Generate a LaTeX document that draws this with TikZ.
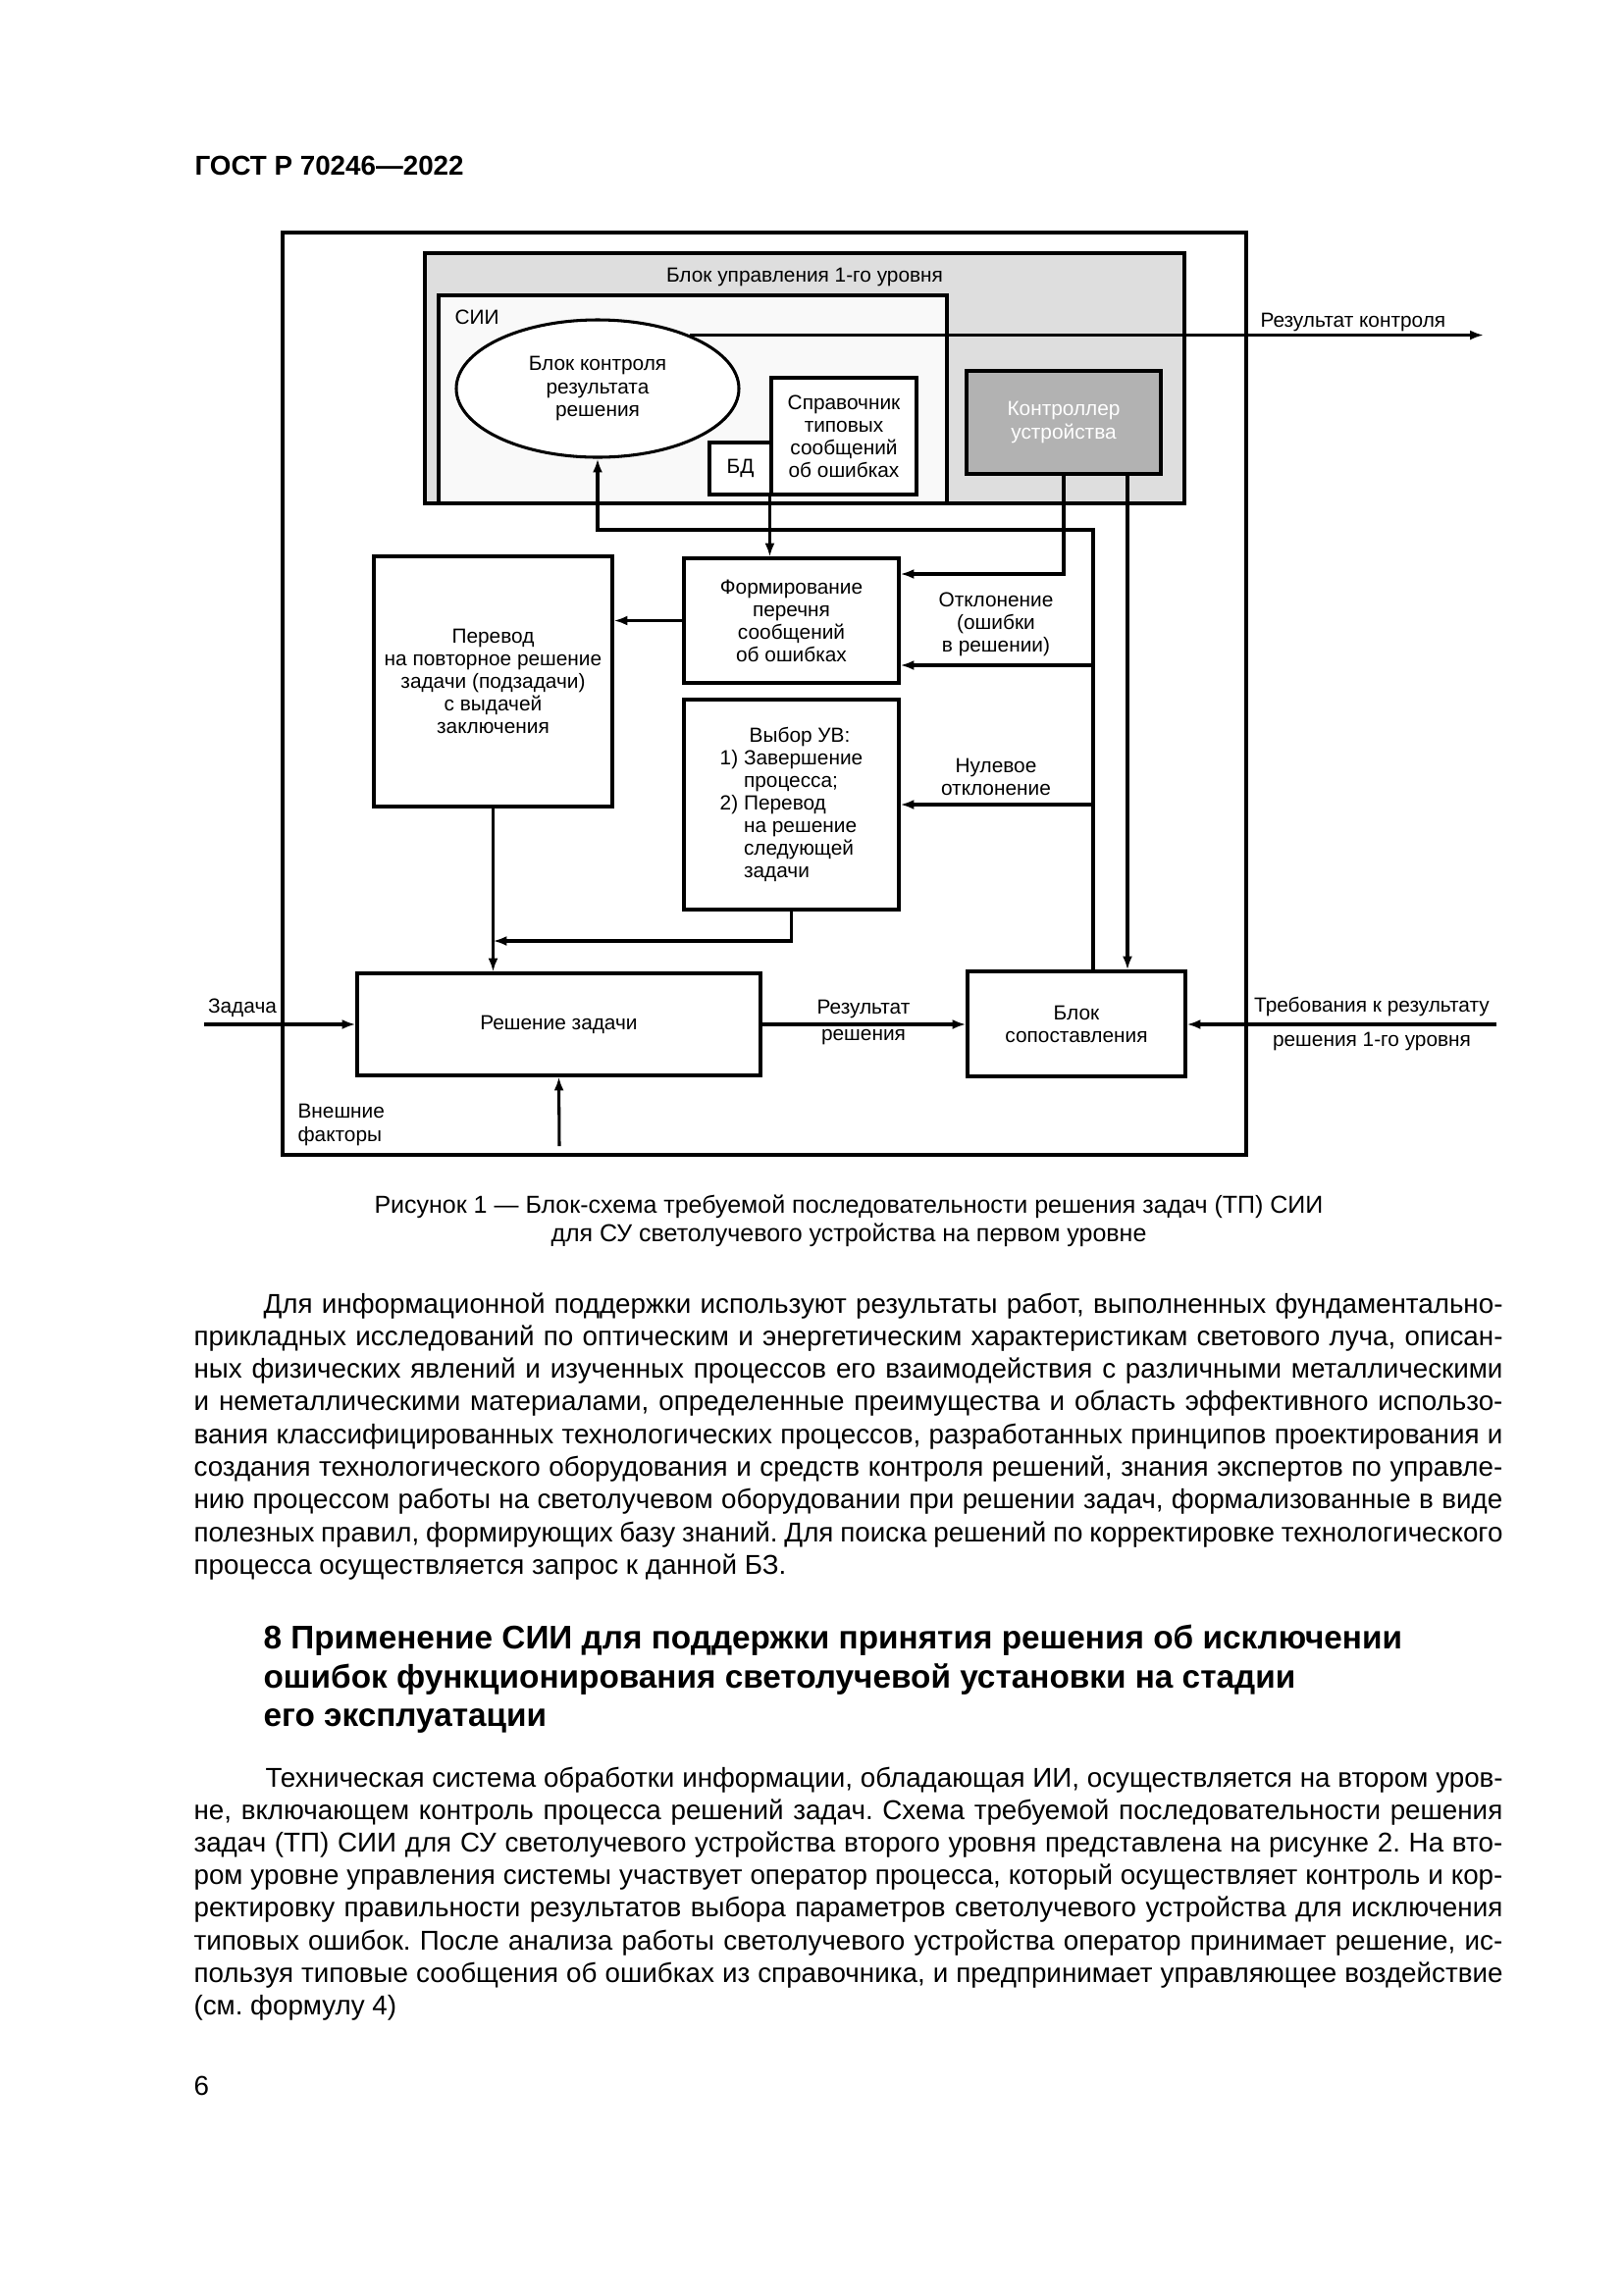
\documentclass[tikz,border=0pt]{standalone}
\usepackage{fontspec}
\setmainfont{Liberation Sans}
\usetikzlibrary{arrows.meta,shapes.geometric,calc}
\frenchspacing
\newcommand{\dgf}{\fontsize{7.5}{8.3}\selectfont}
\newcommand{\bdf}{\fontsize{10}{12}\selectfont}
\newcommand{\cpf}{\fontsize{9}{10.8}\selectfont}
\newcommand{\hdf}{\fontsize{12}{14.4}\selectfont\bfseries}
\newcommand{\jl}[2]{\makebox[#1][s]{#2}}
\definecolor{blkc}{gray}{0.87}
\definecolor{siic}{gray}{0.975}
\definecolor{ctrlc}{gray}{0.70}
\begin{document}
\begin{tikzpicture}[x=0.36pt,y=-0.36pt,
  arr/.style={line width=1.1pt,-{Latex[length=5pt,width=3.6pt]}},
  box/.style={draw,line width=1.1pt,fill=white,inner sep=0pt,align=center,font=\dgf},
  sz/.style 2 args={minimum width=#1*0.36pt,minimum height=#2*0.36pt},
  lbl/.style={inner sep=0pt,align=center,font=\dgf},
  bl/.style={inner sep=0pt,anchor=base west,font=\bdf},
  hl/.style={inner sep=0pt,anchor=base west,font=\hdf},
  captxt/.style={inner sep=0pt,anchor=base,font=\cpf},
]
\useasboundingbox[fill=white] (0,0) rectangle (1654,2339);

% header
\node[inner sep=0pt,anchor=base west,font=\bdf\bfseries] (hdr) at (198,178) {ГОСТ Р 70246—2022};

% ---------- diagram ----------
\node[box,fill=none,sz={982}{940}] (frame) at (779,707) {};
\node[box,fill=blkc,sz={774}{255}] (blk1) at (820,385.5) {};
\node[lbl,anchor=base] (blk1t) at (820,287) {Блок управления 1-го уровня};
\node[box,fill=siic,sz={518}{212}] (sii) at (706,407) {};
\node[lbl,anchor=base west] (siit) at (463,330) {СИИ};
\node[box,ellipse,sz={288}{140}] (ell) at (609,396) {Блок контроля\\результата\\решения};
\node[box,sz={148}{119}] (sprav) at (860,444.5) {Справочник\\типовых\\сообщений\\об ошибках};
\node[box,sz={63}{53}] (bd) at (754.5,477.5) {БД};
\node[box,fill=ctrlc,text=white,sz={198}{105}] (ctrl) at (1084,430.5) {Контроллер\\устройства};

\node[box,sz={219}{127}] (form) at (806.5,632.5) {Формирование\\перечня\\сообщений\\об ошибках};
\node[box,sz={243}{255}] (perevod) at (502.5,694.5) {Перевод\\на повторное решение\\задачи (подзадачи)\\с выдачей\\заключения};
\node[box,sz={219}{214},align=left] (vybor) at (806.5,820) {\hspace*{10.8pt}Выбор УВ:\\1) Завершение\\\phantom{1) }процесса;\\2) Перевод\\\phantom{2) }на решение\\\phantom{2) }следующей\\\phantom{2) }задачи};
\node[box,sz={411}{104}] (resh) at (569.5,1044) {Решение задачи};
\node[box,sz={222}{107}] (sopost) at (1097,1043.5) {Блок\\сопоставления};

% helper coordinates
\coordinate (rc) at (1512,342);
\coordinate (xB) at (1149,0);
\coordinate (xC) at (1114,0);
\coordinate (yA) at (0,585);
\coordinate (yD) at (0,540);
\coordinate (yE) at (0,678);
\coordinate (yF) at (0,959);
\coordinate (zin) at (208,1044);
\coordinate (vin) at (570,1168);
\coordinate (tin) at (1525,1044);

% connectors
\draw[arr] (ell.30) -- (ell.30 -| rc);
\draw[arr] (ctrl.south) |- (form.east |- yA);
\draw[arr] (ctrl.south -| xB) -- (sopost.north -| xB);
\draw[arr] (sopost.north -| xC) |- (ell.south |- yD) -- (ell.south);
\draw[arr] (xC |- yE) -- (form.east |- yE);
\draw[arr] (xC |- vybor.east) -- (vybor.east);
\draw[arr] (sprav.south west) -- (sprav.south west |- form.north);
\draw[arr] (form.west) -- (form.west -| perevod.east);
\draw[arr] (perevod.south) -- (perevod.south |- resh.north);
\draw[arr] (vybor.south) |- (perevod.south |- yF);
\draw[arr] (zin) -- (resh.west);
\draw[arr] (vin) -- (resh.south);
\draw[arr] (resh.east) -- (resh.east -| sopost.west);
\draw[arr] (tin) -- (tin -| sopost.east);

% labels
\node[lbl,anchor=base west] (rkt) at (1284,333) {Результат контроля};
\node[lbl] (otkl) at (1015,636) {Отклонение\\(ошибки\\в решении)};
\node[lbl] (nul) at (1015,791.5) {Нулевое\\отклонение};
\node[lbl] (zad) at (247,1027) {Задача};
\node[lbl,align=left,anchor=west] (vnf) at (303,1146.5) {Внешние\\факторы};
\node[lbl] (rr1) at (880,1028) {Результат};
\node[lbl] (rr2) at (880,1057) {решения};
\node[lbl] (tr1) at (1398,1026) {Требования к результату};
\node[lbl] (tr2) at (1398,1061) {решения 1-го уровня};

% caption
\node[captxt] (cap1) at (865,1236) {Рисунок 1 — Блок-схема требуемой последовательности решения задач (ТП) СИИ};
\node[captxt] (cap2) at (865,1265) {для СУ светолучевого устройства на первом уровне};

% paragraph 1
\node[bl] (p1a) at (268,1338) {\jl{454.7pt}{Для информационной поддержки используют результаты работ, выполненных фундаментально-}};
\node[bl] (p1b) at (197,1371.3) {\jl{480.2pt}{прикладных исследований по оптическим и энергетическим характеристикам светового луча, описан-}};
\node[bl] (p1c) at (197,1404.6) {\jl{480.2pt}{ных физических явлений и изученных процессов его взаимодействия с различными металлическими}};
\node[bl] (p1d) at (197,1437.9) {\jl{480.2pt}{и неметаллическими материалами, определенные преимущества и область эффективного использо-}};
\node[bl] (p1e) at (197,1471.2) {\jl{480.2pt}{вания классифицированных технологических процессов, разработанных принципов проектирования и}};
\node[bl] (p1f) at (197,1504.5) {\jl{480.2pt}{создания технологического оборудования и средств контроля решений, знания экспертов по управле-}};
\node[bl] (p1g) at (197,1537.8) {\jl{480.2pt}{нию процессом работы на светолучевом оборудовании при решении задач, формализованные в виде}};
\node[bl] (p1h) at (197,1571.1) {\jl{480.2pt}{полезных правил, формирующих базу знаний. Для поиска решений по корректировке технологического}};
\node[bl] (p1i) at (197,1604.4) {процесса осуществляется запрос к данной БЗ.};

% heading
\node[hl] (h1) at (268,1680) {8 Применение СИИ для поддержки принятия решения об исключении};
\node[hl] (h2) at (268,1720) {ошибок функционирования светолучевой установки на стадии};
\node[hl] (h3) at (268,1759) {его эксплуатации};

% paragraph 2
\node[bl] (p2a) at (270,1821) {\jl{454pt}{Техническая система обработки информации, обладающая ИИ, осуществляется на втором уров-}};
\node[bl] (p2b) at (197,1854.2) {\jl{480.2pt}{не, включающем контроль процесса решений задач. Схема требуемой последовательности решения}};
\node[bl] (p2c) at (197,1887.4) {\jl{480.2pt}{задач (ТП) СИИ для СУ светолучевого устройства второго уровня представлена на рисунке 2. На вто-}};
\node[bl] (p2d) at (197,1920.6) {\jl{480.2pt}{ром уровне управления системы участвует оператор процесса, который осуществляет контроль и кор-}};
\node[bl] (p2e) at (197,1953.8) {\jl{480.2pt}{ректировку правильности результатов выбора параметров светолучевого устройства для исключения}};
\node[bl] (p2f) at (197,1987) {\jl{480.2pt}{типовых ошибок. После анализа работы светолучевого устройства оператор принимает решение, ис-}};
\node[bl] (p2g) at (197,2020.2) {\jl{480.2pt}{пользуя типовые сообщения об ошибках из справочника, и предпринимает управляющее воздействие}};
\node[bl] (p2h) at (197,2053.4) {(см. формулу 4)};

% page number
\node[bl] (pg) at (197,2135) {6};
\end{tikzpicture}
\end{document}
